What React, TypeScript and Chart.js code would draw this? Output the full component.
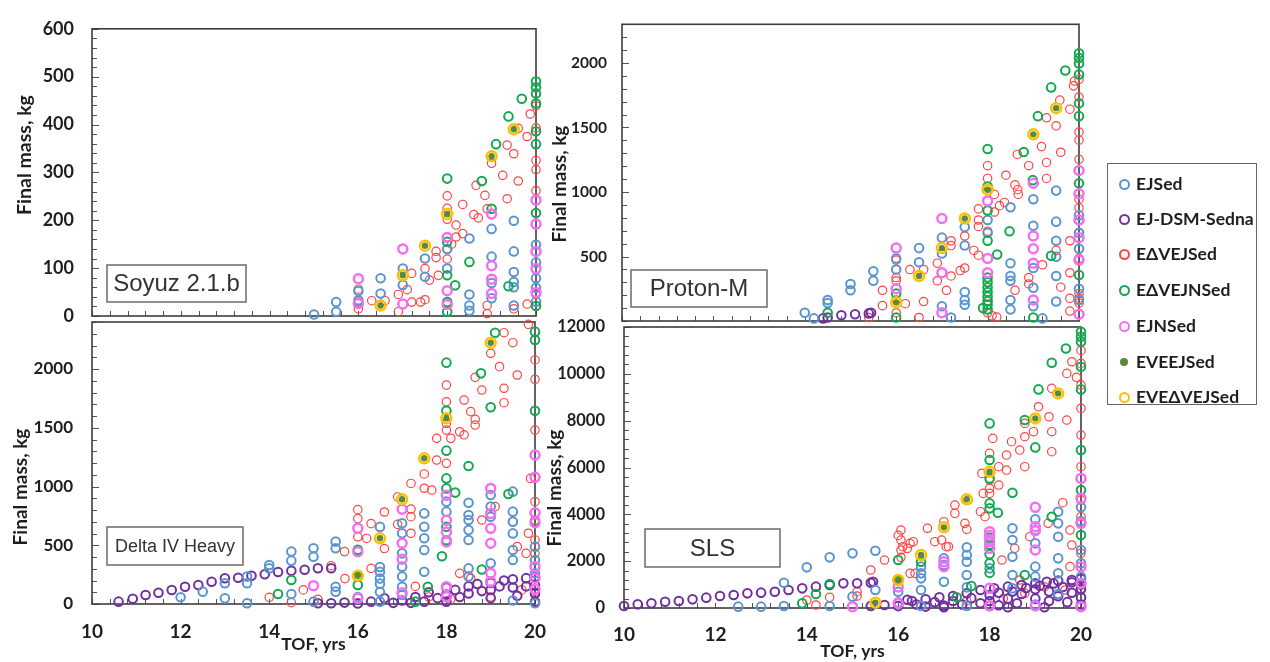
import React, { useEffect, useRef } from 'react';
import { Chart, registerables } from 'chart.js';
Chart.register(...registerables);

type P = [number, number];

const W = 1270;
const H = 662;

const SERIES_NAMES = ['EJSed', 'EJ-DSM-Sedna', 'EΔVEJSed', 'EΔVEJNSed', 'EJNSed', 'EVEEJSed', 'EVEΔVEJSed'];
const X_TICKS = [10, 12, 14, 16, 18, 20];

// ---------------- Soyuz 2.1.b ----------------
const soyuzEJSed: P[] = [[15,3],[15.5,29],[15.5,9],[16,52],[16,33],[16.5,79],[16.5,47],[17,99],[17,65],[17.5,120],[17.5,82],[18,140],[18,99],[18.5,162],[18.5,45],[18.5,22],[18.5,11],[19,182],[19,124],[19,69],[19,37],[19.5,199],[19.5,135],[19.5,92],[19.5,71],[19.5,60],[19.5,22],[20,149],[20,112],[20,79],[20,59],[20,30]];
const soyuzEJDSM: P[] = [];
const soyuzEdVEJSed: P[] = [[16,56],[16,29],[16,15],[16.3,32],[16.6,32],[16.9,45],[16.9,9],[17.1,55],[17.2,29],[17.2,89],[17.4,29],[17.5,34],[17.5,99],[17.6,75],[17.75,135],[17.75,122],[17.8,85],[18,251],[18,225],[18,202],[18,165],[18,139],[18,119],[18.1,150],[18.2,190],[18.2,165],[18.35,172],[18.35,233],[18.6,212],[18.7,205],[18.65,273],[18.85,252],[18.9,224],[19,319],[19.25,294],[19.35,245],[19.35,357],[19.5,339],[19.6,282],[19.6,392],[19.8,375],[19.87,422],[20,439],[20,393],[20,325],[20,306],[20,262],[20,45],[18.9,22],[18.9,5],[19.5,15],[19.8,25]];
const soyuzEdVEJNSed: P[] = [[20,490],[20,478],[20,465],[20,444],[20,386],[20,359],[20,215],[20,21],[19.68,454],[19.38,417],[19.1,359],[18.78,282],[18,287],[18,155],[18.5,113],[18.18,64],[18,29],[18,9],[18,85],[19.38,62],[19,224]];
const soyuzEJNSed: P[] = [[16,78],[16,26],[17,140],[17,25],[18,164],[18,53],[18,24],[19,213],[19,105],[19,77],[19,47],[20,242],[20,192],[20,135],[20,99],[20,49]];
// EVEEJSed solutions (green dots) coincide with the EVEΔVEJSed rings
const soyuzEVE: P[] = [[16.5,22],[17,85],[17.5,147],[18,213],[19,334],[19.5,390]];

// ---------------- Proton-M ----------------
const protonEJSed: P[] = [[14,64],[14.2,20],[14.5,163],[14.5,139],[15,287],[15,238],[15.5,386],[15.5,312],[16,485],[16,399],[16.5,565],[16.5,456],[17,646],[17,523],[17,114],[17.5,728],[17.5,585],[17.5,225],[17.5,163],[17.5,126],[18,783],[18,684],[18.5,882],[18.5,448],[18.5,349],[18.5,312],[18.5,163],[18.5,89],[19,944],[19,738],[19,411],[19,258],[19,114],[19.5,1011],[19.5,770],[19.5,622],[19.5,498],[19.5,349],[19.5,151],[20,820],[20,684],[20,560],[20,250],[20,163],[19.2,20],[17.2,27]];
const protonEJDSM: P[] = [[14.4,20],[14.5,27],[14.8,45],[15.1,52],[15.4,59],[15.45,64]];
const protonEdVEJSed: P[] = [[16,473],[16,399],[16,337],[16,312],[16,163],[16,64],[15.4,27],[15.7,238],[15.7,119],[16.2,134],[16.3,399],[16.6,399],[16.6,151],[16.5,27],[16.9,448],[16.9,312],[17.1,238],[17.2,349],[17.2,622],[17.2,585],[17.4,391],[17.5,411],[17.5,659],[17.7,547],[17.8,510],[17.8,869],[17.8,783],[17.8,733],[18,1204],[18,1105],[18,696],[18,64],[18.15,981],[18.15,845],[18.26,894],[18.37,919],[18.4,1130],[18.6,1055],[18.66,1018],[18.67,981],[18.6,238],[18.65,1291],[18.9,1204],[18.9,337],[18.9,287],[19.18,1352],[19.29,1229],[19.29,1105],[19.29,1575],[19.2,436],[19.5,1513],[19.6,1308],[19.58,1712],[19.5,547],[19.6,262],[19.8,1642],[19.8,622],[19.8,374],[19.8,176],[19.8,77],[19.88,1823],[19.9,1860],[20,1873],[20,1736],[20,1464],[20,1402],[20,1253],[20,944],[20,877],[20,684],[20,485],[20,213],[20,176],[20,139],[18.1,40],[18.2,30]];
const protonEdVEJNSed: P[] = [[20,2076],[20,2039],[20,1997],[20,1910],[20,1687],[20,1588],[20,1068],[20,783],[20,357],[19.7,1942],[19.39,1811],[19.1,1588],[18.79,1310],[18,1333],[18,1043],[18,857],[18,622],[18,337],[18,300],[18,262],[18,225],[18,190],[18,155],[18,126],[18,90],[17.9,100],[18.21,515],[18.48,696],[18.99,1092],[19.39,505],[16,27],[16,213],[14.5,64],[19,27]];
const protonEJNSed: P[] = [[16,565],[16,250],[17,795],[17,374],[17,64],[18,931],[18,485],[18,374],[19,1068],[19,659],[19,560],[19,448],[19,163],[20,1167],[20,986],[20,783],[20,646],[20,473],[20,52]];
const protonEVE: P[] = [[16,144],[16.5,349],[17,565],[17.5,795],[18,1018],[19,1447],[19.5,1650]];

// ---------------- Delta IV Heavy ----------------
const deltaEJSed: P[] = [[12,57],[12.5,105],[13,176],[13,48],[13.5,233],[13.5,176],[13.5,6],[14,332],[14,303],[14.5,446],[14.5,369],[14.5,85],[15,474],[15,403],[15.5,531],[15.5,474],[15.5,147],[15.5,105],[16.5,656],[16.5,315],[16.5,273],[16.5,216],[16.5,173],[16.5,102],[17,687],[17,602],[17,431],[17,318],[17,233],[17,147],[17,76],[17.5,771],[17.5,658],[17.5,559],[17.5,459],[17.5,275],[18,871],[18,786],[18.5,862],[18.5,757],[18.5,715],[18.5,629],[18.5,545],[18.5,303],[18.5,233],[19,928],[19,829],[19,743],[19,346],[19.5,956],[19.5,786],[19.5,701],[19.5,601],[19.5,459],[19.5,374],[20,488],[20,374],[20,261],[20,6],[16,60],[15,20],[16.5,20],[19.5,30]];
const deltaEJDSM: P[] = [[10.6,20],[10.92,45],[11.21,76],[11.5,96],[11.8,119],[12.1,147],[12.4,162],[12.7,190],[13,219],[13.3,224],[13.6,241],[13.9,253],[14.2,272],[14.5,283],[14.8,292],[15.1,304],[15.4,304],[15.1,6],[15.4,6],[15.7,12],[16,5],[16.3,20],[16.6,48],[16.8,10],[17,30],[17.2,10],[17.3,60],[17.5,20],[17.6,100],[17.8,50],[18,140],[18,80],[18,20],[18.2,120],[18.3,60],[18.5,150],[18.5,90],[18.7,170],[18.8,110],[19,180],[19,120],[19,50],[19.2,150],[19.3,200],[19.5,210],[19.5,140],[19.6,70],[19.8,220],[19.8,150],[20,230],[20,160],[20,90],[20,20]];
const deltaEdVEJSed: P[] = [[14,57],[14.5,11],[14.77,120],[15.1,40],[15.4,326],[15.71,216],[15.7,446],[16,803],[16,727],[16,572],[16.2,558],[16.3,684],[16.3,304],[16.6,783],[16.6,472],[16.9,911],[16.9,678],[17.2,1026],[17.2,808],[17.2,743],[17.2,602],[17.5,1107],[17.5,985],[17.67,970],[17.78,1410],[17.78,1225],[18,1863],[18,1721],[18,1537],[18,1480],[18,1197],[18.1,1410],[18.3,1466],[18.4,1440],[18.4,1736],[18.55,1637],[18.65,1571],[18.65,1523],[18.65,1929],[18.8,1821],[19,2133],[19.2,2020],[19.3,1836],[19.3,1713],[19.5,2224],[19.6,1949],[19.3,2309],[19.85,2380],[20,2077],[20,1912],[20,1480],[20,871],[20,715],[20,545],[20,431],[18.8,715],[19.1,829],[19.5,701],[19.6,488],[19.85,602],[19.9,1069],[19.8,431],[18.3,261],[18.55,219],[17.3,150],[17.6,60],[18.1,40],[19,60],[19.7,120],[20,100]];
const deltaEdVEJNSed: P[] = [[19.1,2309],[20,2318],[20,2247],[18,2054],[18.78,1963],[19,1674],[18,1645],[20,1645],[18,1305],[18.5,1175],[18,1069],[18,984],[18.2,948],[19.4,936],[18,657],[18,543],[17.9,407],[18.8,294],[17.58,147],[17.3,20],[14.5,204],[14.2,85],[16,461],[16,232],[16,162],[20,700]];
const deltaEJNSed: P[] = [[15,156],[16,644],[16,445],[16,48],[17,806],[17,517],[17,381],[17,96],[18,925],[18,712],[18,613],[18,528],[18,147],[18,62],[19,984],[19,771],[19,644],[19,517],[19,261],[19,190],[20,1268],[20,1078],[20,777],[20,692],[20,318],[20,219],[20,125]];
const deltaEVE: P[] = [[16,240],[16.5,559],[17,891],[17.5,1240],[18,1580],[19,2224]];

// ---------------- SLS ----------------
const slsEJSed: P[] = [[12.5,57],[13,57],[13.5,1081],[13.5,85],[14,1736],[14.5,2163],[14.5,85],[15,2334],[15,484],[15.5,2448],[15.5,768],[16,199],[16,697],[16.5,1765],[16.5,1480],[16.5,1266],[16.5,768],[16.5,85],[17,2120],[17,1836],[17,1124],[17.5,2590],[17.5,2263],[17.5,1978],[17.5,1409],[17.5,882],[17.5,85],[18,1693],[18,100],[18.5,3401],[18.5,2903],[18.5,2191],[18.5,1409],[18.5,840],[19,3785],[19,3330],[19,2761],[19,1765],[19,1338],[19,150],[19.5,4112],[19.5,3615],[19.5,3045],[19.5,2120],[19.5,1480],[19.5,600],[20,4300],[20,3700],[20,2476],[20,1907],[20,1338],[20,57]];
const slsEJDSM: P[] = [[10,85],[10.3,156],[10.6,199],[10.9,270],[11.2,299],[11.5,370],[11.8,441],[12.1,512],[12.4,555],[12.7,626],[13,655],[13.3,697],[13.6,768],[13.9,840],[14.2,911],[14.5,982],[14.8,1053],[15.1,1053],[15.4,1081],[15.45,1124],[15.4,85],[15.7,128],[16,228],[16.3,299],[16.6,370],[16.9,455],[17.2,512],[17.5,626],[17.8,768],[18.1,840],[18.4,911],[18.7,982],[19,1053],[19.25,1124],[19.5,1167],[19.8,1195],[16,80],[16.2,350],[16.4,150],[16.6,60],[16.8,250],[17,100],[17.2,300],[17.4,150],[17.6,420],[17.8,200],[18,550],[18,300],[18.2,120],[18.2,650],[18.4,400],[18.5,700],[18.6,200],[18.7,600],[18.8,850],[19,400],[19,800],[19.1,950],[19.3,300],[19.3,700],[19.4,1050],[19.5,500],[19.6,900],[19.7,250],[19.8,1100],[19.8,650],[20,1250],[20,1000],[20,800],[20,450],[20,150],[18.4,30],[19.2,30],[17,30]];
const slsEdVEJSed: P[] = [[20,10445],[20,9520],[20,8524],[20,7385],[20,6034],[20,4611],[19.69,10018],[19.69,8026],[19.8,10516],[19.36,9378],[19.36,7528],[19.36,6674],[19.07,8595],[19.3,8168],[18.96,7528],[18.77,7883],[18.77,7314],[18.77,6034],[18.66,6745],[18.48,7101],[18.37,6532],[18.37,5891],[18.07,7243],[18,6603],[18,5464],[18,5108],[18,4895],[17.83,5749],[17.86,4895],[18.2,5251],[18.2,6034],[17.53,4611],[17.8,4112],[17.9,3899],[17.24,4397],[17.24,4041],[17.46,3615],[17.5,3358],[17,3686],[16.95,2903],[17.1,2618],[16.64,3401],[16.8,2832],[16.33,2832],[16.06,3330],[16.06,2903],[16.06,2476],[16.06,2163],[16.37,1480],[16.2,2547],[15.7,2049],[15.4,1622],[15.1,512],[14.5,455],[14.2,128],[14,341],[15.1,697],[16.26,2761],[16.1,2618],[16.26,1480],[17.05,2618],[18.27,2049],[18.55,2547],[18.66,1195],[18.77,626],[18.88,3045],[19.28,3615],[19.6,4497],[19.76,3330],[19.8,2690],[19.76,1765],[19.65,768],[20,3899],[20,2334],[20,840],[19.9,9850],[20,11000],[17.5,300],[18.3,400],[19.2,900],[16,1200],[16,3100]];
const slsEdVEJNSed: P[] = [[20,11797],[20,11583],[20,11370],[19.67,11085],[19.36,10473],[19.07,9335],[18.77,8026],[19,6859],[18,7883],[18,6318],[18,5535],[18,4468],[18,4255],[18.18,4070],[18.5,4924],[19.36,3899],[18.77,1409],[18,1907],[18,2300],[18,2700],[17.6,939],[17.28,455],[16.5,1978],[16,2049],[16,1195],[14.5,1025],[14.2,598],[13.9,199],[20,10302],[20,9335],[20,6745],[20,5037],[20,3116],[18,3000],[18,1500]];
const slsEJNSed: P[] = [[15,57],[16,199],[16,900],[17,1978],[17,1765],[18,3259],[18,3100],[18,2832],[18,2547],[18,840],[18,85],[19,4298],[19,3472],[19,3300],[19,2476],[19,85],[20,5535],[20,4682],[20,3615],[20,1765],[20,1053],[20,57]];
const slsEVE: P[] = [[15.5,228],[16,1195],[16.5,2263],[17,3444],[17.5,4639],[18,5820],[19,8097],[19.5,9164]];

// ---------------- styling ----------------
const STYLES = [
  { color: '#5b95cf', r: 4.3, w: 2, fill: false, order: 4 },
  { color: '#7030a0', r: 4.3, w: 2, fill: false, order: 5 },
  { color: '#ff4444', r: 4.2, w: 1.2, fill: false, order: 6 },
  { color: '#12a950', r: 4.3, w: 2, fill: false, order: 3 },
  { color: '#f46ef4', r: 4.5, w: 2.5, fill: false, order: 2 },
  { color: '#5a8a3a', r: 3.2, w: 0, fill: true, order: 0 },
  { color: '#ffc000', r: 5, w: 2.5, fill: false, order: 1 },
];

const LATO = 'Lato, "Open Sans", sans-serif';

interface Panel {
  key: string;
  area: { l: number; t: number; r: number; b: number };
  yMax: number;
  yTicks: number[];
  yMinor: number;
  yPad: number;
  yFont: { family: string; size: number; weight: string };
  xLabels: boolean;
  xPad: number;
  xh: number;
  data: P[][];
  yTitle: { x: number; y: number; size: number };
  box: { l: number; t: number; r: number; b: number; text: string; size: number };
}

const PANELS: Panel[] = [
  {
    key: 'soyuz', area: { l: 92, t: 17, r: 536, b: 316 }, yMax: 600, yTicks: [0, 100, 200, 300, 400, 500, 600], yMinor: 20, yPad: 18,
    yFont: { family: LATO, size: 18, weight: 'bold' }, xLabels: false, xPad: 10, xh: 30,
    data: [soyuzEJSed, soyuzEJDSM, soyuzEdVEJSed, soyuzEdVEJNSed, soyuzEJNSed, soyuzEVE, soyuzEVE],
    yTitle: { x: 25, y: 155, size: 19.5 }, box: { l: 107, t: 265, r: 246, b: 302, text: 'Soyuz 2.1.b', size: 24 },
  },
  {
    key: 'proton', area: { l: 622, t: 13, r: 1079, b: 321 }, yMax: 2300, yTicks: [500, 1000, 1500, 2000], yMinor: 100, yPad: 15,
    yFont: { family: LATO, size: 15.5, weight: 'bold' }, xLabels: false, xPad: 10, xh: 30,
    data: [protonEJSed, protonEJDSM, protonEdVEJSed, protonEdVEJNSed, protonEJNSed, protonEVE, protonEVE],
    yTitle: { x: 560, y: 184, size: 19 }, box: { l: 631, t: 270, r: 767, b: 307, text: 'Proton-M', size: 24 },
  },
  {
    key: 'delta', area: { l: 92, t: 322, r: 535, b: 604 }, yMax: 2400, yTicks: [0, 500, 1000, 1500, 2000], yMinor: 100, yPad: 19,
    yFont: { family: LATO, size: 17, weight: 'bold' }, xLabels: true, xPad: 16.6, xh: 55.2,
    data: [deltaEJSed, deltaEJDSM, deltaEdVEJSed, deltaEdVEJNSed, deltaEJNSed, deltaEVE, deltaEVE],
    yTitle: { x: 21, y: 487, size: 19 }, box: { l: 107, t: 527, r: 243, b: 565, text: 'Delta IV Heavy', size: 18 },
  },
  {
    key: 'sls', area: { l: 624, t: 327, r: 1081, b: 608 }, yMax: 12000, yTicks: [0, 2000, 4000, 6000, 8000, 10000, 12000], yMinor: 400, yPad: 19,
    yFont: { family: LATO, size: 16.5, weight: 'bold' }, xLabels: true, xPad: 15.6, xh: 58.2,
    data: [slsEJSed, slsEJDSM, slsEdVEJSed, slsEdVEJNSed, slsEJNSed, slsEVE, slsEVE],
    yTitle: { x: 555, y: 488, size: 19 }, box: { l: 645, t: 529, r: 780, b: 567, text: 'SLS', size: 24 },
  },
];

const YW = 70;

function decoPlugin(p: Panel) {
  return {
    id: 'deco_' + p.key,
    beforeDatasetsDraw(chart: any) {
      const { ctx, chartArea: a, scales } = chart;
      const xs = scales.x;
      const ys = scales.y;
      ctx.save();
      // label box
      const b = p.box;
      ctx.fillStyle = '#fff';
      ctx.fillRect(b.l, b.t, b.r - b.l, b.b - b.t);
      ctx.strokeStyle = '#6b6b6b';
      ctx.lineWidth = 1.5;
      ctx.strokeRect(b.l, b.t, b.r - b.l, b.b - b.t);
      ctx.fillStyle = '#333';
      ctx.font = `${b.size}px "Liberation Sans", Arial, sans-serif`;
      ctx.textAlign = 'center';
      ctx.textBaseline = 'middle';
      ctx.fillText(b.text, (b.l + b.r) / 2, (b.t + b.b) / 2 + 1);
      // inward tick marks
      ctx.strokeStyle = '#555';
      ctx.lineWidth = 1;
      const nY = Math.round(p.yMax / p.yMinor);
      for (let i = 0; i <= nY; i++) {
        const v = i * p.yMinor;
        const py = Math.round(ys.getPixelForValue(v)) + 0.5;
        const len = p.yTicks.includes(v) ? 7 : 5;
        ctx.beginPath();
        ctx.moveTo(a.left, py);
        ctx.lineTo(a.left + len, py);
        ctx.stroke();
      }
      for (let i = 0; i <= 25; i++) {
        const v = 10 + i * 0.4;
        const px = Math.round(xs.getPixelForValue(v)) + 0.5;
        ctx.beginPath();
        ctx.moveTo(px, a.bottom);
        ctx.lineTo(px, a.bottom - 5);
        ctx.stroke();
      }
      // frame
      ctx.strokeStyle = '#3c3c3c';
      ctx.lineWidth = 1.6;
      ctx.strokeRect(a.left, a.top, a.right - a.left, a.bottom - a.top);
      ctx.restore();
    },
    afterDraw(chart: any) {
      const { ctx } = chart;
      ctx.save();
      ctx.translate(p.yTitle.x, p.yTitle.y);
      ctx.rotate(-Math.PI / 2);
      ctx.fillStyle = '#1e1e1e';
      ctx.font = `bold ${p.yTitle.size}px ${LATO}`;
      ctx.textAlign = 'center';
      ctx.textBaseline = 'middle';
      ctx.fillText('Final mass, kg', 0, 0);
      ctx.restore();
    },
  };
}

function makeConfig(p: Panel): any {
  const a = p.area;
  return {
    type: 'scatter',
    data: {
      datasets: SERIES_NAMES.map((name, i) => ({
        label: name,
        data: p.data[i].map(([x, y]) => ({ x, y })),
        pointStyle: 'circle',
        pointRadius: STYLES[i].r,
        pointHoverRadius: STYLES[i].r,
        pointBorderWidth: STYLES[i].w,
        pointBorderColor: STYLES[i].color,
        pointBackgroundColor: STYLES[i].fill ? STYLES[i].color : 'rgba(0,0,0,0)',
        showLine: false,
        clip: false,
        order: STYLES[i].order,
      })),
    },
    options: {
      responsive: false,
      animation: false,
      events: [],
      layout: {
        autoPadding: false,
        padding: { left: a.l - YW, right: W - a.r, top: a.t, bottom: H - a.b - p.xh },
      },
      plugins: { legend: { display: false }, tooltip: { enabled: false }, title: { display: false } },
      scales: {
        x: {
          type: 'linear', position: 'bottom', min: 10, max: 20,
          afterBuildTicks: (s: any) => { s.ticks = X_TICKS.map((v) => ({ value: v })); },
          afterFit: (s: any) => { s.height = p.xh; },
          grid: { display: false, drawTicks: false },
          border: { display: false },
          ticks: {
            display: p.xLabels, padding: p.xPad, color: '#1e1e1e', autoSkip: false, maxRotation: 0,
            font: { family: LATO, size: 19, weight: 'bold' },
            callback: (v: any) => String(v),
          },
          title: {
            display: p.xLabels, text: 'TOF, yrs', color: '#1e1e1e',
            font: { family: LATO, size: 17.5, weight: 'bold' }, padding: { top: 0, bottom: 4 },
          },
        },
        y: {
          type: 'linear', position: 'left', min: 0, max: p.yMax,
          afterBuildTicks: (s: any) => { s.ticks = p.yTicks.map((v) => ({ value: v })); },
          afterFit: (s: any) => { s.width = YW; },
          grid: { display: false, drawTicks: false },
          border: { display: false },
          ticks: {
            padding: p.yPad, color: '#1e1e1e', autoSkip: false,
            font: p.yFont,
            callback: (v: any) => String(v),
          },
        },
      },
    },
    plugins: [decoPlugin(p)],
  };
}

const LEGEND_Y = [183, 218, 253, 289, 325, 361, 396];

function Legend() {
  const box = { l: 1107, t: 163, w: 150, h: 242 };
  return (
    <div style={{ position: 'absolute', left: box.l, top: box.t, width: box.w, height: box.h, boxSizing: 'border-box', border: '1.5px solid #666', background: '#fff' }}>
      {SERIES_NAMES.map((name, i) => {
        const s = STYLES[i];
        const cy = LEGEND_Y[i] - box.t;
        const d = s.fill ? 8 : 11;
        return (
          <div key={name}>
            <span style={{
              position: 'absolute', left: 16 - d / 2, top: cy - d / 2, width: d, height: d, boxSizing: 'border-box', borderRadius: '50%',
              border: s.fill ? 'none' : `${Math.max(2, s.w)}px solid ${s.color}`, background: s.fill ? s.color : 'transparent',
            }} />
            <span style={{
              position: 'absolute', left: 28, top: cy - 11, height: 22, lineHeight: '22px', whiteSpace: 'nowrap',
              fontFamily: LATO, fontWeight: 'bold', fontSize: 17.5, color: '#1e1e1e',
            }}>{name}</span>
          </div>
        );
      })}
    </div>
  );
}

export default function App() {
  const refs = useRef<(HTMLCanvasElement | null)[]>([]);
  useEffect(() => {
    const charts = PANELS.map((p, i) => new Chart(refs.current[i] as HTMLCanvasElement, makeConfig(p)));
    return () => charts.forEach((c) => c.destroy());
  }, []);
  return (
    <div style={{ position: 'absolute', left: 0, top: 0, width: W, height: H, background: '#fff', overflow: 'hidden' }}>
      {PANELS.map((p, i) => (
        <canvas
          key={p.key}
          ref={(el) => { refs.current[i] = el; }}
          width={W}
          height={H}
          style={{ position: 'absolute', left: 0, top: 0, width: W, height: H }}
        />
      ))}
      <Legend />
    </div>
  );
}
